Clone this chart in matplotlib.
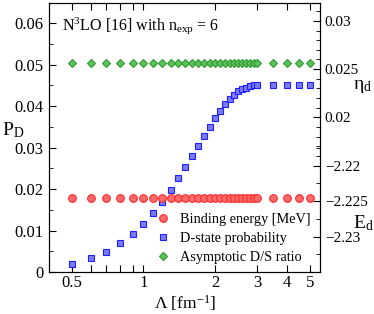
import numpy as np
import matplotlib
matplotlib.use('Agg')
import matplotlib.pyplot as plt
from matplotlib.ticker import FixedLocator, FixedFormatter, NullLocator

plt.rcParams['font.family'] = ['Liberation Serif', 'DejaVu Serif']
plt.rcParams['mathtext.fontset'] = 'custom'
plt.rcParams['mathtext.rm'] = 'Liberation Serif'
plt.rcParams['mathtext.it'] = 'Liberation Serif:italic'

# cutoff values [fm^-1]
lam = [0.5, 0.6, 0.7, 0.8, 0.9, 1.0, 1.1, 1.2, 1.3, 1.4, 1.5, 1.6, 1.7, 1.8, 1.9,
       2.0, 2.1, 2.2, 2.3, 2.4, 2.5, 2.6, 2.7, 2.8, 2.9, 3.0, 3.5, 4.0, 4.5, 5.0]
# D-state probability
p_d = [0.0020, 0.0033, 0.0049, 0.0070, 0.0092, 0.0116, 0.0143, 0.0170, 0.0198,
       0.0226, 0.0253, 0.0279, 0.0304, 0.0328, 0.0350, 0.0371, 0.0389, 0.0404,
       0.0417, 0.0428, 0.0436, 0.0442, 0.0445, 0.0449, 0.0450, 0.0451, 0.0452,
       0.0452, 0.0452, 0.0452]
# binding energy [MeV]
e_d = [-2.2246, -2.2246, -2.2246, -2.2246, -2.2246, -2.2246, -2.2246, -2.2246,
       -2.2246, -2.2246, -2.2246, -2.2246, -2.2246, -2.2246, -2.2246, -2.2246,
       -2.2246, -2.2246, -2.2246, -2.2246, -2.2246, -2.2246, -2.2246, -2.2246,
       -2.2246, -2.2246, -2.2246, -2.2246, -2.2246, -2.2246]
# asymptotic D/S ratio
eta_d = [0.0256, 0.0256, 0.0256, 0.0256, 0.0256, 0.0256, 0.0256, 0.0256, 0.0256,
         0.0256, 0.0256, 0.0256, 0.0256, 0.0256, 0.0256, 0.0256, 0.0256, 0.0256,
         0.0256, 0.0256, 0.0256, 0.0256, 0.0256, 0.0256, 0.0256, 0.0256, 0.0256,
         0.0256, 0.0256, 0.0256]

xticks = [0.5, 0.6, 0.7, 0.8, 0.9, 1, 2, 3, 4, 5]
xlabels = ['0.5', '', '', '', '', '1', '2', '3', '4', '5']

fig = plt.figure(figsize=(3.74, 3.14), dpi=100)
ax = fig.add_axes([0.1297, 0.1338, 0.8556 - 0.1297, 0.992 - 0.1338])
ax2 = ax.twinx()
ax3 = ax.twinx()

ax.set_xscale('log')
ax.set_xlim(0.4, 5.5)
ax.set_ylim(0, 0.065)
ax.xaxis.set_major_locator(FixedLocator(xticks))
ax.xaxis.set_major_formatter(FixedFormatter(xlabels))
ax.xaxis.set_minor_locator(NullLocator())
ax.set_yticks([0, 0.01, 0.02, 0.03, 0.04, 0.05, 0.06])
ax.set_yticklabels(['0', '0.01', '0.02', '0.03', '0.04', '0.05', '0.06'])
ax.yaxis.set_minor_locator(FixedLocator([0.005, 0.015, 0.025, 0.035, 0.045, 0.055]))
ax.tick_params(which='both', direction='in', top=True, right=False, labelsize=12)
ax.tick_params(which='major', length=5)
ax.tick_params(which='minor', length=3)
ax.tick_params(axis='x', pad=2)

ax2.set_ylim(0.004, 0.0319)
ax2.yaxis.set_major_locator(FixedLocator([0.02, 0.025, 0.03]))
ax2.yaxis.set_major_formatter(FixedFormatter(['0.02', '0.025', '0.03']))
ax2.yaxis.set_minor_locator(FixedLocator([0.016, 0.017, 0.018, 0.019, 0.021, 0.022,
                                          0.023, 0.024, 0.026, 0.027, 0.028, 0.029, 0.031]))
ax2.tick_params(which='both', direction='in', labelsize=11)
ax2.tick_params(which='major', length=5)
ax2.tick_params(which='minor', length=3)

ax3.set_ylim(-2.235, -2.197)
ax3.yaxis.set_major_locator(FixedLocator([-2.23, -2.225, -2.22]))
ax3.yaxis.set_major_formatter(FixedFormatter(['\u22122.23', '\u22122.225', '\u22122.22']))
ax3.yaxis.set_minor_locator(FixedLocator([-2.2325, -2.2275, -2.2225, -2.2175]))
ax3.tick_params(which='both', direction='in', labelsize=11)
ax3.tick_params(which='major', length=5)
ax3.tick_params(which='minor', length=3)
for s in ax3.spines.values():
    s.set_visible(False)

h1, = ax3.plot(lam, e_d, 'o', ms=5.5, mfc='#ff6a6a', mec='#ff2a2a', mew=0.8,
               label='Binding energy [MeV]')
h2, = ax.plot(lam, p_d, 's', ms=4.5, mfc='#7a7aff', mec='#2020ff', mew=0.8,
              label='D-state probability')
h3, = ax2.plot(lam, eta_d, 'D', ms=4.2, mfc='#5cc05c', mec='#2f9a2f', mew=0.8,
               label='Asymptotic D/S ratio')

ax3.legend(handles=[h1, h2, h3], loc='lower right', bbox_to_anchor=(1.01, -0.015),
           frameon=False, fontsize=10.3, handletextpad=0.7, labelspacing=0.42,
           handlelength=1.0, borderaxespad=0.45)

ax.text(0.05, 0.9, 'N$^3$LO [16] with n$_{\\rm exp}$ = 6', transform=ax.transAxes,
        fontsize=11.5)

fig.text(0.005, 0.585, 'P$_{\\rm D}$', fontsize=14, ha='left', va='center')
fig.text(0.945, 0.725, '\u03b7$_{\\rm d}$', fontsize=14, ha='left', va='center')
fig.text(0.945, 0.29, 'E$_{\\rm d}$', fontsize=14, ha='left', va='center')
fig.text(0.495, 0.004, '\u039b [fm$^{-1}$]', fontsize=12.5, ha='center', va='bottom')

fig.savefig('out.png', dpi=100)
